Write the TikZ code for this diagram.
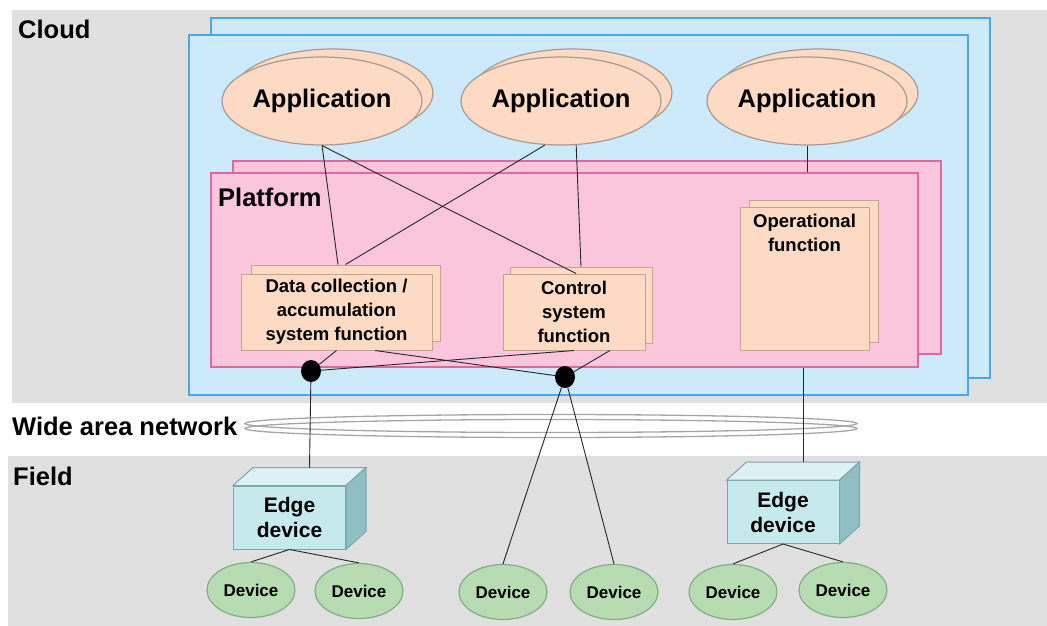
\documentclass[tikz,border=0pt]{standalone}
\usepackage{fontspec}
\setmainfont{Liberation Sans}
\usetikzlibrary{shapes.geometric,calc}
\definecolor{bggray}{HTML}{E0E0E0}
\definecolor{cloudfill}{HTML}{CDEAFB}
\definecolor{cloudline}{HTML}{4FA7E0}
\definecolor{platfill}{HTML}{FBC5DC}
\definecolor{platline}{HTML}{DD6A9E}
\definecolor{peach}{HTML}{FCDAC3}
\definecolor{appline}{HTML}{A89A90}
\definecolor{boxline}{HTML}{C2A58F}
\definecolor{edgefront}{HTML}{C6E9EE}
\definecolor{edgetop}{HTML}{DCF2F5}
\definecolor{edgeside}{HTML}{8FBFC3}
\definecolor{edgeline}{HTML}{7BA8AA}
\definecolor{devfill}{HTML}{B8DCB1}
\definecolor{devline}{HTML}{80AE87}
\definecolor{wanline}{HTML}{A6A6A6}
\begin{document}
\begin{tikzpicture}[x=1pt,y=-1pt]
	\tikzstyle{lbl}=[anchor=west,inner sep=0pt,font=\fontsize{25.5}{27}\selectfont\bfseries]
	\tikzstyle{cloudbox}=[draw=cloudline,fill=cloudfill,line width=1.3pt]
	\tikzstyle{plat}=[rectangle,draw=platline,fill=platfill,line width=1.3pt,inner sep=0pt]
	\tikzstyle{app}=[ellipse,draw=appline,fill=peach,line width=1.2pt,minimum width=200pt,minimum height=88pt,inner sep=0pt,font=\fontsize{25.5}{27}\selectfont\bfseries]
	\tikzstyle{func}=[rectangle,draw=boxline,fill=peach,line width=1pt,inner sep=0pt,align=center,font=\fontsize{18.5}{24}\selectfont\bfseries]
	\tikzstyle{edgebox}=[rectangle,draw=edgeline,fill=edgefront,line width=1pt,minimum width=112pt,minimum height=63pt,inner sep=0pt,align=center,font=\fontsize{21}{25}\selectfont\bfseries]
	\tikzstyle{dev}=[ellipse,draw=devline,fill=devfill,line width=1.2pt,minimum width=88pt,minimum height=55pt,inner sep=0pt,font=\fontsize{17}{19}\selectfont\bfseries]
	\tikzstyle{dot}=[ellipse,fill=black,minimum width=20pt,minimum height=22pt,inner sep=0pt]
	\tikzstyle{conn}=[draw=black!85,line width=0.9pt]

	\useasboundingbox (0,0) rectangle (1047,626);
	\fill[bggray] (12,10) rectangle (1047,403);
	\fill[bggray] (8,456) rectangle (1047,626);

	\node[lbl] (cloud) at (18,29) {Cloud};
	\node[lbl] (wan) at (12,426) {Wide area network};
	\node[lbl] (field) at (13,476) {Field};

	\draw[cloudbox] (211,18) rectangle (990,378);
	\draw[cloudbox] (189,35) rectangle (968,395);

	\node[app] (app1b) at (333,93) {};
	\node[app] (app1) at (322,101) {Application};
	\node[app] (app2b) at (572,93) {};
	\node[app] (app2) at (561,101) {Application};
	\node[app] (app3b) at (818,93) {};
	\node[app] (app3) at (807,101) {Application};

	\node[plat,minimum width=708pt,minimum height=193pt] (pb) at (587,257.5) {};
	\node[plat,minimum width=707pt,minimum height=194pt] (pf) at (564.5,270) {};
	\node[lbl] (platform) at (218,197) {Platform};

	\node[func,minimum width=189pt,minimum height=76pt] (dcb) at (345.5,303) {};
	\node[func,minimum width=191pt,minimum height=76pt] (dc) at (336.5,312) {Data collection /\\accumulation\\system function};
	\node[func,minimum width=142pt,minimum height=76pt] (csb) at (581,305) {};
	\node[func,minimum width=142pt,minimum height=76pt] (cs) at (574,312) {Control\\system\\function};
	\node[func,minimum width=129pt,minimum height=142pt] (opb) at (813.5,271) {};
	\node[func,minimum width=129pt,minimum height=143pt] (op) at (804.5,278.5) {};
	\node[func,draw=none,fill=none] (optxt) at ($(op.north)+(0,26)$) {Operational\\function};

	\node[dot] (dot1) at (311,371) {};
	\node[dot] (dot2) at (565,377) {};

	\draw[wanline,line width=1.3pt] (551,423.5) ellipse [x radius=306pt, y radius=9pt];
	\draw[wanline,line width=1.3pt] (551,428.5) ellipse [x radius=306pt, y radius=9pt];

	\node[edgebox] (edge1) at (289.5,517.5) {Edge\\device};
	\node[edgebox] (edge2) at (783,512) {Edge\\device};
	\draw[edgeline,fill=edgetop,line width=1pt] (edge1.north west) -- ($(edge1.north west)+(20,-18)$) -- ($(edge1.north east)+(20,-18)$) -- (edge1.north east) -- cycle;
	\draw[edgeline,fill=edgeside,line width=1pt] (edge1.north east) -- ($(edge1.north east)+(20,-18)$) -- ($(edge1.south east)+(20,-18)$) -- (edge1.south east) -- cycle;
	\draw[edgeline,fill=edgetop,line width=1pt] (edge2.north west) -- ($(edge2.north west)+(20,-18)$) -- ($(edge2.north east)+(20,-18)$) -- (edge2.north east) -- cycle;
	\draw[edgeline,fill=edgeside,line width=1pt] (edge2.north east) -- ($(edge2.north east)+(20,-18)$) -- ($(edge2.south east)+(20,-18)$) -- (edge2.south east) -- cycle;
	\coordinate (e1top) at ($(edge1.north)+(20,-18)$);
	\coordinate (e2top) at ($(edge2.north)+(20,-18)$);

	\node[dev] (d1) at (251,590) {Device};
	\node[dev] (d2) at (359,591) {Device};
	\node[dev] (d3) at (503,592) {Device};
	\node[dev] (d4) at (614,592) {Device};
	\node[dev] (d5) at (733,592) {Device};
	\node[dev] (d6) at (843,590) {Device};

	\draw[conn] (app1.south) -- (dcb.101);
	\draw[conn] (app1.south) -- (cs.87);
	\draw[conn] (app2.-110) -- (dcb.north);
	\draw[conn] (app2.-71) -- (csb.north);
	\draw[conn] (app3.south) -- (app3.south |- pf.north);
	\draw[conn] (dc.south) -- (dot1);
	\draw[conn] (cs.south) -- (dot1);
	\draw[conn] (dc.-45) -- (dot2);
	\draw[conn] (cs.-47) -- (dot2);
	\draw[conn] (dot1) -- (e1top);
	\draw[conn] (pf.south -| e2top) -- (e2top);
	\draw[conn] (dot2) -- (d3.north);
	\draw[conn] (dot2) -- (d4.north);
	\draw[conn] (edge1.south) -- (d1.north);
	\draw[conn] (edge1.south) -- (d2.north);
	\draw[conn] (edge2.south) -- (d5.north);
	\draw[conn] (edge2.south) -- (d6.north);
\end{tikzpicture}
\end{document}
